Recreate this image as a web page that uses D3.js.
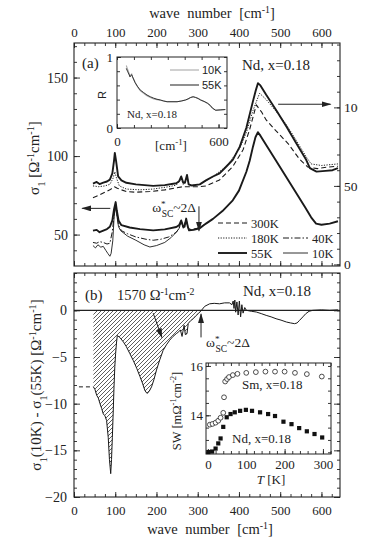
<!DOCTYPE html>
<html>
<head>
<meta charset="utf-8">
<script src="https://cdn.jsdelivr.net/npm/d3@7"></script>
<style>
  body { margin: 0; background: #fff; }
  svg { display: block; }
  text { font-family: "Liberation Serif", "Times New Roman", serif; fill: #222; }
  .sans { font-family: "Liberation Sans", Arial, sans-serif; }
</style>
</head>
<body>
<div id="wrapper"></div>
<script>
// ---- data ----
// panel (a), upper group, right axis [wave number, sigma1]
const up300K = [[46,42.5],[60,44],[75,46],[87,47.5],[98,49.5],[105,48.5],[115,47.5],[127,46.4],[150,46],[184,46.4],[220,47.5],[264,49.5],[305,49.5],[320,50],[353,53.8],[385,62.3],[410,73],[426,86],[442,101.6],[455,97],[466,92],[490,85],[519,77],[547,67],[567,62],[590,61],[615,62],[640,62.5]]
const up180K = [[46,50],[60,49.5],[75,50],[87,51],[95,55],[99,59],[103,55],[110,50],[127,48],[160,47.5],[192,48],[230,49.5],[248,50.5],[260,54.5],[265,51],[274,55.5],[280,50],[305,51],[337,56],[370,62.5],[402,74],[418,84],[434,98],[450,109],[466,105],[490,97.5],[515,89],[539,79],[563,68.5],[575,64],[600,63],[640,64]]
const up55K = [[46,51.5],[55,52.5],[62,51.2],[71,52.1],[80,52.8],[87,54],[93,58],[97,66],[99,71],[102,66],[107,56],[115,53.5],[127,52],[150,51],[192,50],[220,50.5],[248,51.7],[255,53],[260,56],[265,52],[269,52],[274,57],[278,51],[285,50.3],[305,51],[320,53.5],[337,56],[353,58],[370,62.5],[385,66.6],[402,75],[418,87],[434,104],[441,111],[446,115.4],[452,114],[466,108],[490,98.4],[515,87.8],[539,77.2],[563,66.6],[572,61.3],[588,59.1],[610,59.6],[627,60],[640,61.3]]
// panel (a), lower group, left axis
const lo55K = [[46,52.5],[55,53],[62,51.5],[71,52.5],[80,53.5],[87,55],[93,59],[97,66],[101,70.7],[104,65],[108,59],[115,56],[135,54.5],[160,53.5],[192,52.7],[220,53.3],[248,54.8],[255,56],[260,59],[265,55],[268,55],[272,60.2],[276,55],[279,52.7],[290,53],[305,54],[320,57],[337,60],[360,65],[385,71.8],[400,78],[418,90],[426,97],[434,106],[440,112],[446,115.2],[452,113],[466,107],[490,97],[515,86.5],[540,76],[560,67.5],[575,61],[587,57],[600,56.3],[620,57],[640,58.5]]
const lo40K = [[46,45],[55,44.5],[62,45.5],[71,45],[80,44],[87,44.5],[93,52],[97,62],[100,68.6],[104,63],[108,56],[115,52.5],[130,50.5],[150,48.5],[175,47],[192,46.4],[210,47],[230,48.5],[248,51.5],[255,54],[260,58.5],[265,54],[272,59.5],[277,54],[285,53],[305,54.5],[320,57]]
const lo10K = [[46,43],[52,41.5],[58,43.5],[65,42],[71,42.5],[77,40],[82,38],[87,36.2],[90,38],[94,46],[97,60],[100,68],[104,62],[108,55],[113,52.5],[130,49],[150,46.4],[170,43.5],[184,42.1],[200,43],[220,45],[235,48],[248,51.5],[255,54],[260,58.5],[265,54],[272,59.5],[277,54],[285,53],[305,54.5],[320,57]]
// inset (a): reflectivity
const refl10K = [[55,0.88],[62,0.83],[70,0.78],[77,0.73],[82,0.75],[87,0.76],[92,0.72],[107,0.64],[120,0.585],[137,0.525],[157,0.49],[177,0.455],[197,0.43],[217,0.41],[236,0.4],[256,0.39],[276,0.38],[296,0.37],[325,0.37],[355,0.37],[380,0.38],[405,0.395],[420,0.41],[435,0.43],[450,0.44],[465,0.43],[480,0.415],[494,0.395],[514,0.375],[534,0.35],[550,0.32],[564,0.28],[583,0.25],[610,0.255],[640,0.26]]
const refl55K = [[55,0.84],[62,0.8],[70,0.76],[77,0.72],[82,0.74],[87,0.75],[92,0.72],[107,0.64],[120,0.59],[137,0.535],[157,0.5],[177,0.465],[197,0.44],[217,0.42],[236,0.405],[256,0.395],[276,0.38],[296,0.37],[325,0.37],[355,0.37],[380,0.38],[405,0.395],[420,0.41],[435,0.43],[450,0.44],[465,0.43],[480,0.415],[494,0.395],[514,0.375],[534,0.35],[550,0.32],[564,0.28],[583,0.25],[610,0.255],[640,0.26]]
// panel (b): sigma1(10K) - sigma1(55K)
const diff = [[47,-8.2],[51,-8.5],[55,-9.1],[59,-9.4],[63,-10],[67,-10.5],[71,-11.1],[75,-11.3],[79,-11.8],[83,-13.6],[86,-16],[89,-17.5],[91,-16],[93,-13.6],[95,-11],[97,-8.2],[99,-6],[101,-4.6],[103,-3.5],[105,-2.7],[111,-2.9],[120,-3.4],[127,-3.9],[135,-4.6],[144,-5.4],[152,-6.2],[160,-7.1],[166,-7.8],[172,-8.6],[177,-8.9],[182,-8.7],[188,-8.2],[194,-7.4],[200,-6.4],[208,-5.3],[216,-4.3],[224,-3.7],[232,-3.2],[240,-2.8],[248,-2.5],[254,-2.3],[258,-2.1],[262,-2.8],[264,-2.3],[267,-1.6],[270,-2.6],[274,-2.5],[277,-1.4],[283,-1.1],[289,-0.9],[295,-0.6],[301,-0.36],[309,0],[317,0.43],[329,0.7],[340,0.75],[353,0.7],[365,0.8],[377,0.8],[383,0.6],[386,1.0],[388,0.2],[390,1.1],[392,-0.2],[395,0.9],[398,-0.5],[401,1.0],[404,-0.7],[407,0.6],[410,-0.3],[414,0.3],[418,0],[430,-0.1],[442,-0.18],[454,-0.35],[466,-0.54],[478,-0.7],[490,-0.9],[502,-1.05],[515,-1.25],[525,-1.35],[535,-1.43],[541,-1.35],[547,-1.07],[555,-0.7],[562,-0.36],[570,-0.1],[579,0],[600,0.05],[620,0],[640,0.05]]
const diffExtrap = [[12,-8.2],[46,-8.2]]
const hatchEnd = 309
// inset (b): spectral weight vs T
const swSm = [[5,13.62],[12,13.65],[20,13.7],[27,13.78],[33,13.9],[40,14.1],[42,14.73],[45,15.37],[50,15.47],[55,15.55],[65,15.63],[77,15.68],[100,15.72],[125,15.75],[150,15.77],[175,15.77],[200,15.77],[227,15.72],[258,15.67],[297,15.57]]
const swNd = [[1,12.51],[11,12.53],[20,12.65],[27,12.86],[33,13.06],[40,13.53],[49,13.92],[59,14.05],[70,14.12],[84,14.18],[99,14.22],[115,14.18],[136,14.12],[157,14.05],[175,13.97],[197,13.74],[218,13.64],[238,13.48],[258,13.35],[278,13.24],[298,13.1]]
// ticks
const waveTicks = [0, 100, 200, 300, 400, 500, 600]
const sigmaTicks = [50, 100, 150]
const sigmaRightTicks = [0, 50, 100]
const diffTicks = [-20, -15, -10, -5, 0]
const tempTicks = [0, 100, 200, 300]
const swTicks = [14, 16]

// ---- dimensions ----
const W = 374, H = 551
const fA = { left: 74, right: 340, top: 43, bottom: 266 }
const fB = { left: 74, right: 340, top: 273, bottom: 497 }
const iA = { left: 117, right: 227, top: 57, bottom: 128 }
const iB = { left: 206, right: 331, top: 363, bottom: 454 }

// ---- scales ----
const xScale = d3.scaleLinear().domain([0, 645]).range([fA.left, fA.right])
const yLeftA = d3.scaleLinear().domain([30, 172]).range([fA.bottom, fA.top])
const yRightA = d3.scaleLinear().domain([-1, 141]).range([fA.bottom, fA.top])
const yB = d3.scaleLinear().domain([-20, 4]).range([fB.bottom, fB.top])
const xInA = d3.scaleLinear().domain([0, 650]).range([iA.left, iA.right])
const yInA = d3.scaleLinear().domain([0, 1]).range([iA.bottom, iA.top])
const xInB = d3.scaleLinear().domain([-5, 321]).range([iB.left, iB.right])
const yInB = d3.scaleLinear().domain([12.43, 16.12]).range([iB.bottom, iB.top])

// ---- canvas ----
const svg = d3.select("#wrapper").append("svg").attr("width", W).attr("height", H)
const defs = svg.append("defs")
defs.append("clipPath").attr("id", "page").append("rect").attr("width", 358).attr("height", H)
const hatch = defs.append("pattern").attr("id", "hatch").attr("patternUnits", "userSpaceOnUse")
  .attr("width", 4).attr("height", 4)
hatch.append("path").attr("d", "M-1,1 l2,-2 M0,4 l4,-4 M3,5 l2,-2")
  .attr("stroke", "#333").attr("stroke-width", 0.8)
defs.append("marker").attr("id", "arrow").attr("markerUnits", "userSpaceOnUse")
  .attr("markerWidth", 10).attr("markerHeight", 8).attr("refX", 9).attr("refY", 3)
  .attr("orient", "auto")
  .append("path").attr("d", "M0,0 L10,3 L0,6 Z").attr("fill", "#222")

const root = svg.append("g").attr("clip-path", "url(#page)")

// ---- helpers ----
function axis(gen, at, values, size, fmt, padding, fs) {
  const g = root.append("g").attr("transform", `translate(${at[0]},${at[1]})`)
    .call(gen.tickValues(values).tickSize(-size).tickPadding(padding || 0)
      .tickFormat(fmt || (() => "")))
  g.select(".domain").remove()
  g.selectAll("line").attr("stroke", "#222").attr("stroke-width", 0.9)
  g.selectAll("text").style("font-size", `${fs || 13}px`).attr("fill", "#222")
  return g
}
function rich(sel, parts, fs) {
  parts.forEach(p => {
    const [t, k] = Array.isArray(p) ? p : [p, null]
    const ts = sel.append("tspan").text(t)
    if (k === "sup") ts.attr("baseline-shift", "super").style("font-size", `${fs * 0.68}px`)
    if (k === "sub") ts.attr("baseline-shift", "sub").style("font-size", `${fs * 0.72}px`)
  })
  return sel
}
function label(x, y, parts, fs, opts = {}) {
  const t = root.append("text").attr("x", x).attr("y", y).style("font-size", `${fs}px`)
    .attr("text-anchor", opts.anchor || "start")
  if (opts.cls) t.attr("class", opts.cls)
  if (opts.rotate) t.attr("transform", `rotate(-90,${x},${y})`)
  if (opts.ws) t.style("word-spacing", `${opts.ws}px`)
  return rich(t, parts, fs)
}
function arrow(x1, y1, x2, y2) {
  root.append("line").attr("x1", x1).attr("y1", y1).attr("x2", x2).attr("y2", y2)
    .attr("stroke", "#222").attr("stroke-width", 1).attr("marker-end", "url(#arrow)")
}
const minorWave = d3.range(0, 646, 25)

// ---- panel (a) ----
axis(d3.axisTop(xScale), [0, fA.top], minorWave, 3)
axis(d3.axisTop(xScale), [0, fA.top], waveTicks, 5, d3.format("d"), 6)
axis(d3.axisBottom(xScale), [0, fA.bottom], minorWave, 3)
axis(d3.axisBottom(xScale), [0, fA.bottom], waveTicks, 5)
axis(d3.axisLeft(yLeftA), [fA.left, 0], d3.range(40, 171, 10), 3)
axis(d3.axisLeft(yLeftA), [fA.left, 0], sigmaTicks, 6, d3.format("d"), 6, 14)
axis(d3.axisRight(yRightA), [fA.right, 0], d3.range(0, 141, 10), 3)
axis(d3.axisRight(yRightA), [fA.right, 0], sigmaRightTicks, 6, d3.format("d"), 4, 13.5)

const lineUp = d3.line().x(d => xScale(d[0])).y(d => yRightA(d[1]))
const lineLo = d3.line().x(d => xScale(d[0])).y(d => yLeftA(d[1]))
const curvesA = [
  { data: up300K, gen: lineUp, w: 1.1, dash: "5,3" },
  { data: up180K, gen: lineUp, w: 1, dash: "1.2,1.4" },
  { data: up55K, gen: lineUp, w: 1.9, dash: null },
  { data: lo10K, gen: lineLo, w: 0.9, dash: null },
  { data: lo40K, gen: lineLo, w: 1, dash: "6,2,1.5,2" },
  { data: lo55K, gen: lineLo, w: 1.9, dash: null },
]
curvesA.forEach(c => {
  root.append("path").attr("d", c.gen(c.data)).attr("fill", "none")
    .attr("stroke", "#1a1a1a").attr("stroke-width", c.w)
    .attr("stroke-linejoin", "round").attr("stroke-dasharray", c.dash)
})
root.append("rect").attr("x", fA.left).attr("y", fA.top)
  .attr("width", fA.right - fA.left).attr("height", fA.bottom - fA.top)
  .attr("fill", "none").attr("stroke", "#222").attr("stroke-width", 1.1)

// legend (a)
const legendA = [
  { name: "300K", x: 218, y: 223, w: 1.1, dash: "5,3" },
  { name: "180K", x: 218, y: 238, w: 1, dash: "1.2,1.4" },
  { name: "55K", x: 218, y: 253, w: 1.9, dash: null },
  { name: "40K", x: 283, y: 238, w: 1, dash: "6,2,1.5,2" },
  { name: "10K", x: 283, y: 253, w: 0.9, dash: null },
]
legendA.forEach(d => {
  const len = d.x < 250 ? 29 : 25
  root.append("line").attr("x1", d.x).attr("x2", d.x + len).attr("y1", d.y).attr("y2", d.y)
    .attr("stroke", "#1a1a1a").attr("stroke-width", d.w).attr("stroke-dasharray", d.dash)
  label(d.x + len + 4, d.y + 4.5, [d.name], 12.5)
})

label(82, 68, ["(a)"], 15)
label(242, 70, ["Nd, x=0.18"], 15)
arrow(xScale(495), yRightA(102), xScale(622), yRightA(102))
arrow(xScale(88), yLeftA(66.7), xScale(20), yLeftA(66.7))
arrow(xScale(303), yLeftA(68), xScale(303), yLeftA(52.5))
const omA = label(196, 212, ["ω", ["*", "sup"]], 13.5, { anchor: "end" })
omA.append("tspan").attr("dx", -4).attr("baseline-shift", "sub").style("font-size", "9.5px").text("SC")
omA.append("tspan").text("~2Δ")

// inset (a)
root.append("rect").attr("x", iA.left).attr("y", iA.top)
  .attr("width", iA.right - iA.left).attr("height", iA.bottom - iA.top).attr("fill", "#fff")
const lineR = d3.line().x(d => xInA(d[0])).y(d => yInA(d[1]))
root.append("path").attr("d", lineR(refl10K)).attr("fill", "none").attr("stroke", "#aaa").attr("stroke-width", 1.1)
root.append("path").attr("d", lineR(refl55K)).attr("fill", "none").attr("stroke", "#333").attr("stroke-width", 1)
axis(d3.axisBottom(xInA), [0, iA.bottom], [0, 100, 200, 300, 400, 500, 600], 3)
axis(d3.axisBottom(xInA), [0, iA.bottom], [0, 600], 4, d3.format("d"), 8.5, 13)
axis(d3.axisTop(xInA), [0, iA.top], [0, 100, 200, 300, 400, 500, 600], 3)
axis(d3.axisLeft(yInA), [iA.left, 0], d3.range(0, 1.01, 0.2), 3)
axis(d3.axisLeft(yInA), [iA.left, 0], [0, 1], 4, d3.format("d"), 4, 13)
axis(d3.axisRight(yInA), [iA.right, 0], d3.range(0, 1.01, 0.2), 3)
root.append("rect").attr("x", iA.left).attr("y", iA.top)
  .attr("width", iA.right - iA.left).attr("height", iA.bottom - iA.top)
  .attr("fill", "none").attr("stroke", "#222").attr("stroke-width", 1)
label(106, 95, ["R"], 11, { anchor: "middle", rotate: true, cls: "sans" })
label(171, 150, ["[cm", ["-1", "sup"], "]"], 13, { anchor: "middle" })
label(127, 118, ["Nd, x=0.18"], 11)
const legendR = [{ name: "10K", y: 70, c: "#aaa" }, { name: "55K", y: 85, c: "#333" }]
legendR.forEach(d => {
  root.append("line").attr("x1", 170).attr("x2", 199).attr("y1", d.y).attr("y2", d.y)
    .attr("stroke", d.c).attr("stroke-width", 1.1)
  label(202, d.y + 4, [d.name], 11, { cls: "sans" })
})

// ---- panel (b) ----
const areaB = d3.area().x(d => xScale(d[0])).y0(yB(0)).y1(d => yB(d[1]))
root.append("path").attr("d", areaB(diff.filter(d => d[0] <= hatchEnd))).attr("fill", "url(#hatch)")
root.append("line").attr("x1", fB.left).attr("x2", fB.right).attr("y1", yB(0)).attr("y2", yB(0))
  .attr("stroke", "#222").attr("stroke-width", 1.1)
const lineB = d3.line().x(d => xScale(d[0])).y(d => yB(d[1]))
root.append("path").attr("d", lineB(diff)).attr("fill", "none").attr("stroke", "#1a1a1a").attr("stroke-width", 1)
root.append("path").attr("d", lineB(diffExtrap)).attr("fill", "none").attr("stroke", "#1a1a1a")
  .attr("stroke-width", 1).attr("stroke-dasharray", "4,3")

axis(d3.axisTop(xScale), [0, fB.top], minorWave, 3)
axis(d3.axisTop(xScale), [0, fB.top], waveTicks, 5)
axis(d3.axisBottom(xScale), [0, fB.bottom], minorWave, 3)
axis(d3.axisBottom(xScale), [0, fB.bottom], waveTicks, 5, d3.format("d"), 9)
axis(d3.axisLeft(yB), [fB.left, 0], d3.range(-20, 4.1, 1), 3)
axis(d3.axisLeft(yB), [fB.left, 0], diffTicks, 6, d3.format("d"), 7, 14)
axis(d3.axisRight(yB), [fB.right, 0], d3.range(-20, 4.1, 1), 3)
axis(d3.axisRight(yB), [fB.right, 0], diffTicks, 6)
root.append("rect").attr("x", fB.left).attr("y", fB.top)
  .attr("width", fB.right - fB.left).attr("height", fB.bottom - fB.top)
  .attr("fill", "none").attr("stroke", "#222").attr("stroke-width", 1.1)

label(85, 300, ["(b)"], 15)
label(117, 300, ["1570 Ω", ["-1", "sup"], "cm", ["-2", "sup"]], 14.5)
label(243, 296, ["Nd, x=0.18"], 15)
arrow(xScale(192), yB(-0.3), xScale(213), yB(-2.9))
arrow(xScale(308), yB(-2.9), xScale(308), yB(-0.4))
const omB = label(206, 347, ["ω", ["*", "sup"]], 13.5)
omB.append("tspan").attr("dx", -4).attr("baseline-shift", "sub").style("font-size", "9.5px").text("SC")
omB.append("tspan").text("~2Δ")

// inset (b)
root.append("rect").attr("x", iB.left).attr("y", iB.top)
  .attr("width", iB.right - iB.left).attr("height", iB.bottom - iB.top).attr("fill", "#fff")
axis(d3.axisBottom(xInB), [0, iB.bottom], d3.range(0, 321, 20), 3)
axis(d3.axisBottom(xInB), [0, iB.bottom], tempTicks, 5, d3.format("d"), 5.5, 13)
axis(d3.axisTop(xInB), [0, iB.top], d3.range(0, 321, 20), 3)
axis(d3.axisLeft(yInB), [iB.left, 0], d3.range(12.5, 16.1, 0.5), 3)
axis(d3.axisLeft(yInB), [iB.left, 0], swTicks, 5, d3.format("d"), 3, 13)
axis(d3.axisRight(yInB), [iB.right, 0], d3.range(12.5, 16.1, 0.5), 3)
root.append("rect").attr("x", iB.left).attr("y", iB.top)
  .attr("width", iB.right - iB.left).attr("height", iB.bottom - iB.top)
  .attr("fill", "none").attr("stroke", "#222").attr("stroke-width", 1)
root.append("g").selectAll("circle").data(swSm).join("circle")
  .attr("cx", d => xInB(d[0])).attr("cy", d => yInB(d[1])).attr("r", 2.4)
  .attr("fill", "#fff").attr("stroke", "#222").attr("stroke-width", 0.8)
root.append("g").selectAll("rect").data(swNd).join("rect")
  .attr("x", d => xInB(d[0]) - 2.1).attr("y", d => yInB(d[1]) - 2.1)
  .attr("width", 4.2).attr("height", 4.2).attr("fill", "#111")
label(242, 389, ["Sm, x=0.18"], 13)
label(232, 443, ["Nd, x=0.18"], 13)
label(181, 411, ["SW [mΩ", ["-1", "sup"], "cm", ["-2", "sup"], "]"], 12.5, { anchor: "middle", rotate: true })
const tLab = label(271, 484, [], 13, { anchor: "middle" })
tLab.append("tspan").style("font-style", "italic").text("T")
tLab.append("tspan").text(" [K]")

// ---- axis titles ----
label(212, 18, ["wave number [cm", ["-1", "sup"], "]"], 14.5, { anchor: "middle", ws: 4 })
label(210, 534, ["wave number [cm", ["-1", "sup"], "]"], 14.5, { anchor: "middle", ws: 4 })
label(39, 158, ["σ", ["1", "sub"], " [Ω", ["-1", "sup"], "cm", ["-1", "sup"], "]"], 15, { anchor: "middle", rotate: true })
label(41, 385, ["σ", ["1", "sub"], "(10K) - σ", ["1", "sub"], "(55K)  [Ω", ["-1", "sup"], "cm", ["-1", "sup"], "]"], 15, { anchor: "middle", rotate: true })
</script>
</body>
</html>
